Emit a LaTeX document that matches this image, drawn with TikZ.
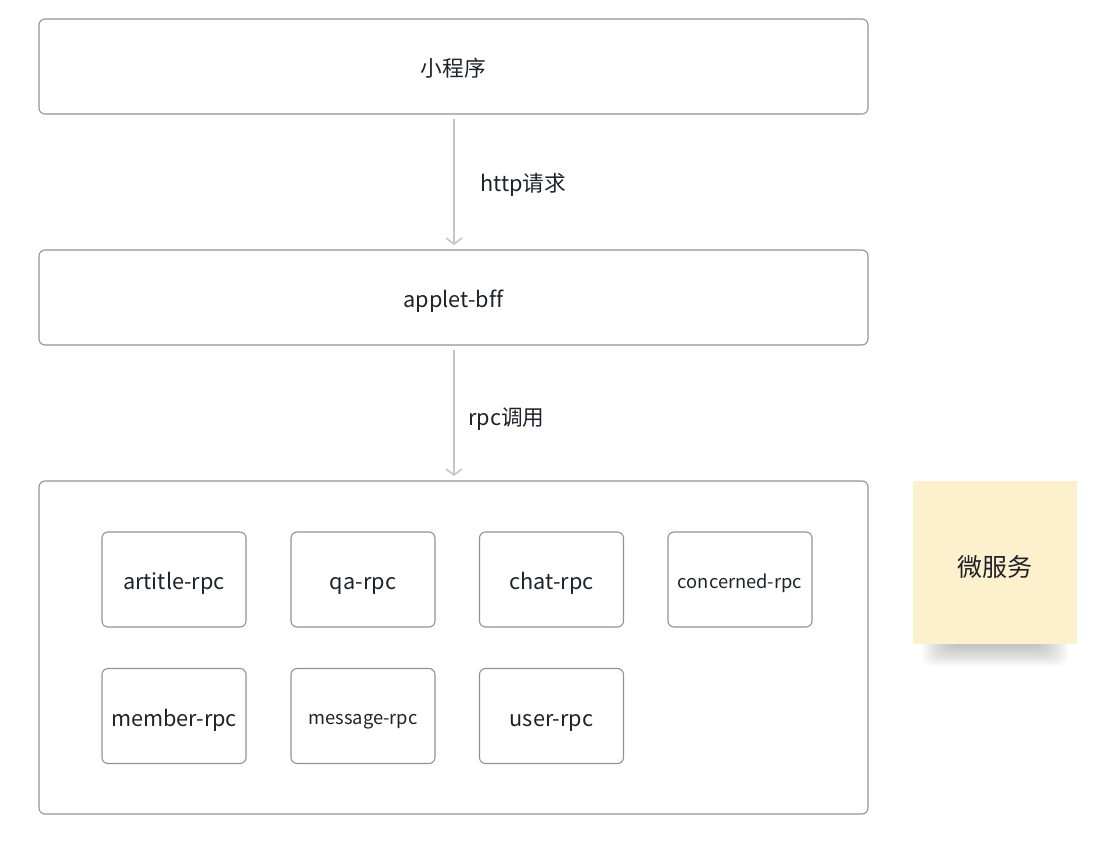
\documentclass[tikz,border=0pt]{standalone}
\usepackage{fontspec}
\setmainfont[Ligatures=NoCommon]{Noto Sans CJK SC}
\usetikzlibrary{arrows.meta}
\definecolor{bordc}{HTML}{8F9399}
\definecolor{txtc}{HTML}{1F2329}
\definecolor{arrc}{HTML}{C3C6CC}
\definecolor{notec}{HTML}{FDF0CC}
\newcommand{\fx}[1]{\raisebox{0pt}[1em][0.04em]{#1}}
\newcommand{\fxn}[1]{\raisebox{0pt}[1.1em][0em]{#1}}
\tikzset{
  bigbox/.style={draw=bordc, line width=1.1pt, rounded corners=6pt, fill=white, minimum width=829pt, minimum height=95pt, inner sep=0pt, font=\fontsize{21.7}{26}\selectfont, text=txtc},
  svc/.style={draw=bordc, line width=1.1pt, rounded corners=6pt, fill=white, minimum width=144pt, minimum height=95pt, inner sep=0pt, font=\fontsize{21.7}{26}\selectfont, text=txtc},
  svcsmall/.style={svc, font=\fontsize{18.3}{22}\selectfont},
  flow/.style={draw=arrc, line width=1.6pt, -{Straight Barb[length=6pt,width=16pt,line width=1.6pt]}},
  lbl/.style={font=\fontsize{21.7}{26}\selectfont, text=txtc, inner sep=0pt},
  note/.style={fill=notec, minimum width=164pt, minimum height=163pt, inner sep=0pt, font=\fontsize{25}{30}\selectfont, text=txtc},
  shadowlayer/.style={fill=black, opacity=0.02, rounded corners=9pt}
}
\begin{document}
\begin{tikzpicture}[x=1pt,y=-1pt]
\useasboundingbox (0,0) rectangle (1117,849);
\node[bigbox] (mp) at (453.5,66.5) {\fx{小程序}};
\node[bigbox] (bff) at (453.5,297.5) {\fx{applet-bff}};
\node[draw=bordc, line width=1.1pt, rounded corners=6pt, minimum width=829pt, minimum height=333pt, inner sep=0pt] (ms) at (453.5,647.5) {};
\node[svc] (a1) at (174,579.5) {\fx{artitle-rpc}};
\node[svc] (a2) at (363,579.5) {\fx{qa-rpc}};
\node[svc] (a3) at (551.5,579.5) {\fx{chat-rpc}};
\node[svcsmall] (a4) at (740,579.5) {\fx{concerned-rpc}};
\node[svc] (b1) at (174,716) {\fx{member-rpc}};
\node[svcsmall] (b2) at (363,716) {\fx{message-rpc}};
\node[svc] (b3) at (551.5,716) {\fx{user-rpc}};
\foreach \i in {0,...,12} {
  \fill[shadowlayer] (922+\i*2.2,560) rectangle (1068-\i*2.2,666-\i*1.6);
}
\node[note] (nt) at (995,562.5) {\fxn{微服务}};
\coordinate (p1) at (454,119);
\coordinate (p2) at (454,245);
\coordinate (q1) at (454,350);
\coordinate (q2) at (454,476);
\draw[flow] (p1) -- (p2);
\draw[flow] (q1) -- (q2);
\node[lbl, anchor=west] (l1) at (480,185) {http请求};
\node[lbl, anchor=west] (l2) at (468,419) {rpc调用};
\end{tikzpicture}
\end{document}
